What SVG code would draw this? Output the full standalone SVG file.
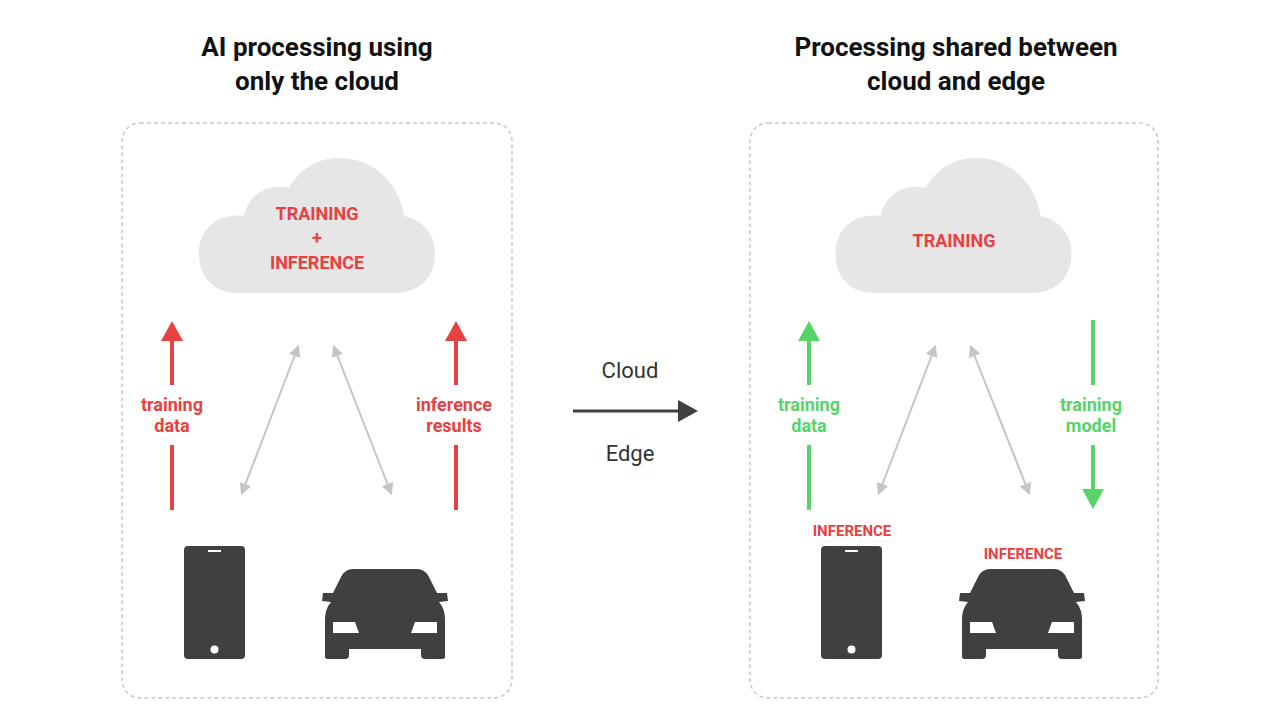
<svg xmlns="http://www.w3.org/2000/svg" width="1280" height="720" viewBox="0 0 1280 720">
<defs>
<style>
.title{font-family:Roboto,"Liberation Sans",sans-serif;font-weight:bold;font-size:26px;fill:#111;text-anchor:middle}
.lbl{font-family:Roboto,"Liberation Sans",sans-serif;font-weight:bold;font-size:18px;text-anchor:middle}
.box{fill:none;stroke:#c8c8c8;stroke-width:1.5;stroke-dasharray:4 3}
.cloud{fill:#e6e6e6}
.dev{fill:#404040}
.gray{stroke:#c4c4c4;stroke-width:2;fill:none}
.red{stroke:#e84141;stroke-width:4}
.grn{stroke:#58d36a;stroke-width:4}
</style>
<marker id="ga" viewBox="0 0 10 10" refX="8" refY="5" markerWidth="6" markerHeight="6" orient="auto-start-reverse"><path d="M0,0L10,5L0,10z" fill="#c4c4c4"/></marker>
<symbol id="cloud" viewBox="0 0 236 136"><path class="cloud" d="M40,135 C10,135 0,115 0,95 C0,70 20,55 45,58 C50,35 70,25 90,30 C105,5 125,0 140,0 C175,0 200,25 205,58 C225,62 236,78 236,95 C236,118 222,135 195,135 Z"/></symbol>
<symbol id="phone" viewBox="0 0 61 113"><rect class="dev" x="0" y="0" width="61" height="113" rx="4"/><rect x="24" y="4" width="13" height="2" fill="#fff"/><circle cx="30.5" cy="103.5" r="4" fill="#fff"/></symbol>
<symbol id="car" viewBox="0 0 128 90"><path class="dev" d="M32,0 L96,0 Q104,0 108,8 L116,24 L126,24 L127,32 L118,33 Q124,40 124,50 L124,88 Q124,90 120,90 L104,90 Q100,90 100,86 L100,80 L28,80 L28,86 Q28,90 24,90 L8,90 Q4,90 4,88 L4,50 Q4,40 10,33 L1,32 L2,24 L12,24 L20,8 Q24,0 32,0 Z"/><path d="M12,53 L34,53 L38,64 L12,64 Z" fill="#fff"/><path d="M116,53 L94,53 L90,64 L116,64 Z" fill="#fff"/></symbol>
</defs>
<rect width="1280" height="720" fill="#fff"/>
<g id="titles">
<text class="title" x="317" y="56">AI processing using</text>
<text class="title" x="317" y="90">only the cloud</text>
<text class="title" x="956" y="56">Processing shared between</text>
<text class="title" x="956" y="90">cloud and edge</text>
</g>
<g id="left-panel">
<rect class="box" x="122" y="123" width="390" height="575" rx="18"/>
<g id="cloud-left"><use href="#cloud" x="199" y="158" width="236" height="136"/>
<text class="lbl" x="317" y="220" fill="#e84141">TRAINING</text>
<text class="lbl" x="317" y="244" fill="#e84141">+</text>
<text class="lbl" x="317" y="269" fill="#e84141">INFERENCE</text></g>
<g id="phone-left"><use href="#phone" x="184" y="546" width="61" height="113"/></g>
<g id="car-left"><use href="#car" x="321" y="569" width="128" height="90"/></g>
</g>
<g id="right-panel">
<rect class="box" x="750" y="123" width="408" height="575" rx="18"/>
<g id="cloud-right"><use href="#cloud" x="835" y="158" width="237" height="136"/>
<text class="lbl" x="954" y="247" fill="#e84141">TRAINING</text></g>
<g id="phone-right"><use href="#phone" x="821" y="546" width="61" height="113"/>
<text class="lbl" x="852" y="536" fill="#e84141" style="font-size:15px">INFERENCE</text></g>
<g id="car-right"><use href="#car" x="958" y="569" width="128" height="90"/>
<text class="lbl" x="1023" y="559" fill="#e84141" style="font-size:15px">INFERENCE</text></g>
</g>
<g id="connectors">
<line class="red" x1="172" y1="338" x2="172" y2="385"/><line class="red" x1="172" y1="445" x2="172" y2="510"/><path d="M161,341L172,321L183,341z" fill="#e84141"/>
<line class="red" x1="456" y1="338" x2="456" y2="385"/><line class="red" x1="456" y1="445" x2="456" y2="510"/><path d="M445,341L456,321L467,341z" fill="#e84141"/>
<line class="gray" x1="298" y1="347" x2="242" y2="493" marker-start="url(#ga)" marker-end="url(#ga)"/>
<line class="gray" x1="334" y1="347" x2="391" y2="493" marker-start="url(#ga)" marker-end="url(#ga)"/>
<line class="grn" x1="809" y1="338" x2="809" y2="385"/><line class="grn" x1="809" y1="445" x2="809" y2="510"/><path d="M798,341L809,321L820,341z" fill="#58d36a"/>
<line class="grn" x1="1093" y1="320" x2="1093" y2="385"/><line class="grn" x1="1093" y1="445" x2="1093" y2="492"/><path d="M1082,489L1093,509L1104,489z" fill="#58d36a"/>
<line class="gray" x1="935" y1="347" x2="879" y2="493" marker-start="url(#ga)" marker-end="url(#ga)"/>
<line class="gray" x1="971" y1="347" x2="1029" y2="493" marker-start="url(#ga)" marker-end="url(#ga)"/>
<line stroke="#404040" stroke-width="3" x1="573" y1="411" x2="682" y2="411"/><path d="M678,400L698,411L678,422z" fill="#404040"/>
</g>
<g id="labels">
<text class="lbl" x="172" y="411" fill="#e84141">training</text><text class="lbl" x="172" y="432" fill="#e84141">data</text>
<text class="lbl" x="454" y="411" fill="#e84141">inference</text><text class="lbl" x="454" y="432" fill="#e84141">results</text>
<text class="lbl" x="809" y="411" fill="#58d36a">training</text><text class="lbl" x="809" y="432" fill="#58d36a">data</text>
<text class="lbl" x="1091" y="411" fill="#58d36a">training</text><text class="lbl" x="1091" y="432" fill="#58d36a">model</text>
<text x="630" y="378" style="font-family:Roboto,'Liberation Sans',sans-serif;font-size:22px;fill:#333;text-anchor:middle">Cloud</text>
<text x="630" y="461" style="font-family:Roboto,'Liberation Sans',sans-serif;font-size:22px;fill:#333;text-anchor:middle">Edge</text>
</g>
</svg>
